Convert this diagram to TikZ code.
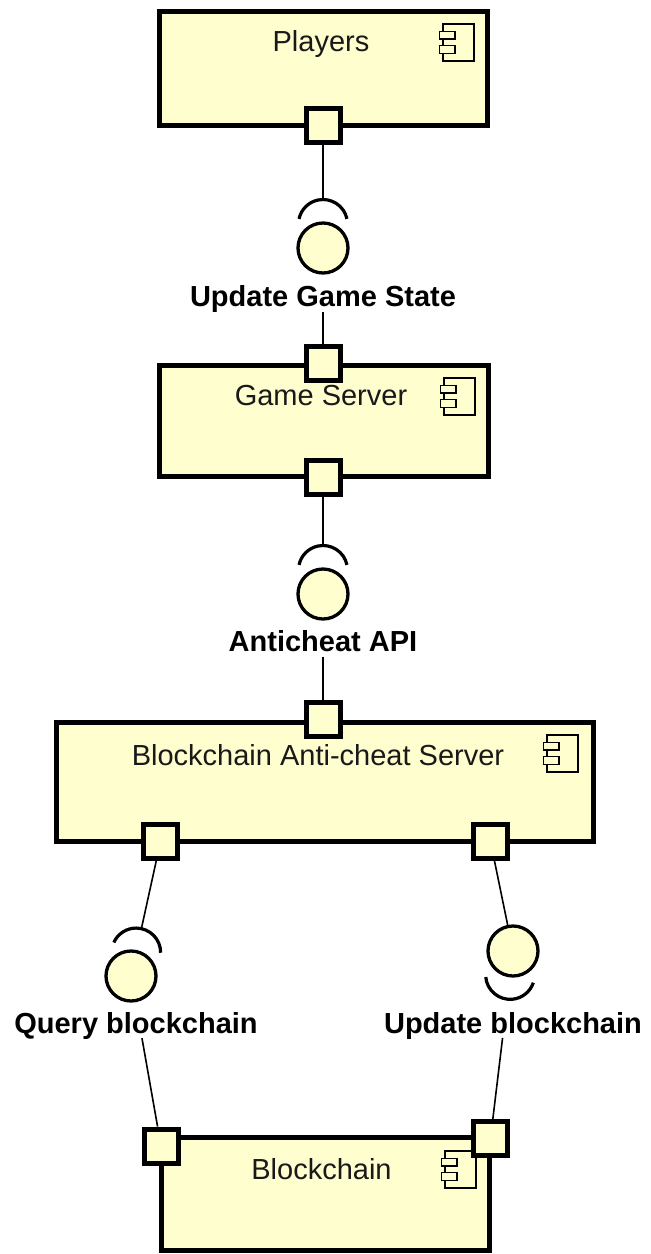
\documentclass[tikz,border=0pt]{standalone}
\usepackage{fontspec}
\setmainfont{Liberation Sans}
\usetikzlibrary{calc}
\definecolor{umlfill}{HTML}{FEFECE}
\tikzset{
  comp/.style={draw, line width=5pt, fill=umlfill, rectangle, inner sep=0pt, outer sep=0pt},
  port/.style={draw, line width=5pt, fill=umlfill, rectangle, minimum size=34pt, inner sep=0pt},
  iface/.style={circle, draw, line width=3.3pt, fill=umlfill, minimum size=50pt, inner sep=0pt},
  socket/.style={line width=3.2pt},
  conn/.style={line width=1.6pt},
  ctext/.style={font=\fontsize{29}{32}\selectfont, anchor=base, inner sep=0pt, text=black!90},
  itext/.style={font=\bfseries\fontsize{29}{32}\selectfont, anchor=base, inner sep=0pt, text depth=6pt},
  compicon/.pic={
    \draw[line width=1.3pt] (0,0) rectangle (31,37);
    \draw[line width=1.3pt, fill=umlfill] (-3.7,7.7) rectangle (12,15);
    \draw[line width=1.3pt, fill=umlfill] (-3.7,21.7) rectangle (12,29.3);
  }
}
\begin{document}
\begin{tikzpicture}[x=1pt, y=-1pt]
\useasboundingbox (0,0) rectangle (651,1254);

% component boxes
\node[comp, minimum width=328pt, minimum height=114pt] (players) at (323,68) {};
\node[comp, minimum width=329pt, minimum height=111pt] (game) at (323.5,420.5) {};
\node[comp, minimum width=537pt, minimum height=119pt] (bacs) at (324.5,781.5) {};
\node[comp, minimum width=328pt, minimum height=113pt] (chain) at (325,1193.5) {};

% component icons
\pic at ($(players.north east)+(-44,13)$) {compicon};
\pic at ($(game.north east)+(-44,13)$) {compicon};
\pic at ($(bacs.north east)+(-46,13)$) {compicon};
\pic at ($(chain.north east)+(-44,14)$) {compicon};

% component names
\node[ctext] (playersT) at (321,51) {Players};
\node[ctext] (gameT) at (321,405) {Game Server};
\node[ctext] (bacsT) at (318,765) {Blockchain Anti-cheat Server};
\node[ctext] (chainT) at (321.5,1179) {Blockchain};

% ports
\node[port] (p1) at (323,125) {};
\node[port] (p2) at (323,363) {};
\node[port] (p3) at (323,477) {};
\node[port] (p4) at (323,719.5) {};
\node[port] (p5) at (160.5,841.5) {};
\node[port] (p6) at (490.5,841.5) {};
\node[port] (p7) at (161,1146) {};
\node[port] (p8) at (490.5,1138.5) {};

% interfaces
\node[iface] (c1) at (323,248) {};
\node[iface] (c2) at (323,594) {};
\node[iface] (c3) at (131,976) {};
\node[iface] (c4) at (513,951) {};

% interface labels
\node[itext] (l1) at (323,306) {Update Game State};
\node[itext] (l2) at (323,651) {Anticheat API};
\node[itext] (l3) at (136,1033) {Query blockchain};
\node[itext] (l4) at (513,1033) {Update blockchain};

% socket centres and tops
\coordinate (s1) at ($(c1)!24pt!(p1)$);
\coordinate (t1) at ($(c1)!48.5pt!(p1)$);
\coordinate (s2) at ($(c2)!24pt!(p3)$);
\coordinate (t2) at ($(c2)!48.5pt!(p3)$);
\coordinate (s3) at ($(c3)!24pt!(p5)$);
\coordinate (t3) at ($(c3)!48.5pt!(p5)$);
\coordinate (s4) at ($(c4)!24pt!(p8)$);

% sockets
\draw[socket] ($(s1)+(12:24.5pt)$) arc[start angle=12, end angle=168, radius=24.5pt];
\draw[socket] ($(s2)+(12:24.5pt)$) arc[start angle=12, end angle=168, radius=24.5pt];
\draw[socket] ($(s3)+(-0.4:24.5pt)$) arc[start angle=-0.4, end angle=155.6, radius=24.5pt];
\draw[socket] ($(s4)+(185.2:24.5pt)$) arc[start angle=185.2, end angle=341.2, radius=24.5pt];

% connectors
\draw[conn] (p1) -- (t1);
\draw[conn] ($(c1)!(l1.south)!(p2)$) -- (p2);
\draw[conn] (p3) -- (t2);
\draw[conn] ($(c2)!(l2.south)!(p4)$) -- (p4);
\draw[conn] (p5) -- (t3);
\draw[conn] ($(c3)!(l3.south)!(p7)$) -- (p7);
\draw[conn] (p6) -- (c4);
\draw[conn] ($(c4)!(l4.south)!(p8)$) -- (p8);
\end{tikzpicture}
\end{document}
